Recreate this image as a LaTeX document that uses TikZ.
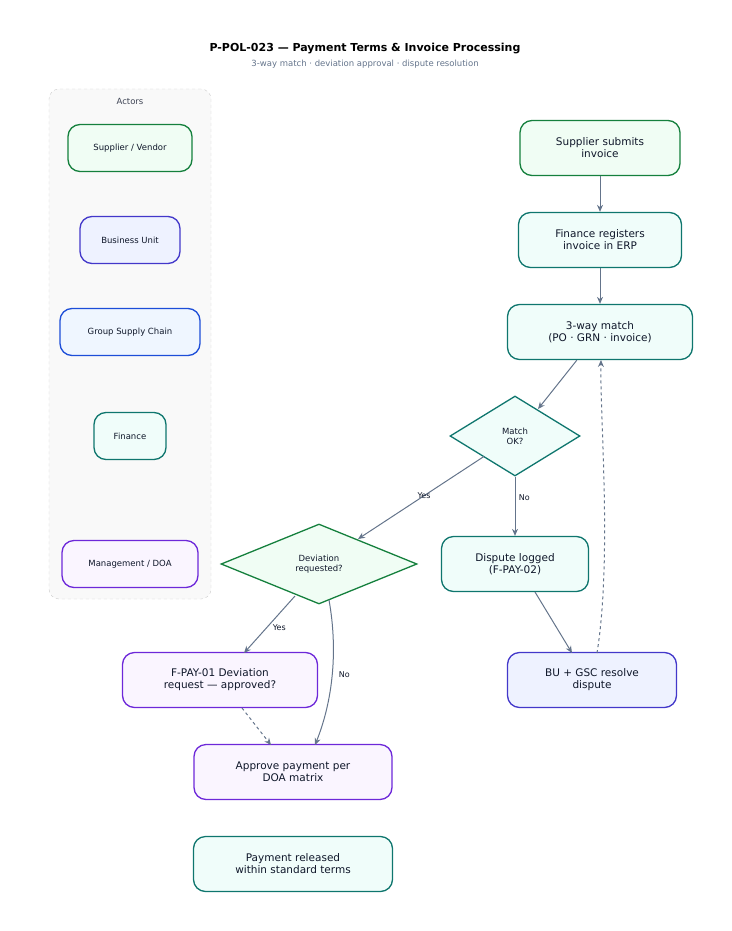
\documentclass[tikz,border=0pt]{standalone}
\usepackage{fontspec}
\setmainfont{DejaVu Sans}
\usetikzlibrary{shapes.geometric,arrows.meta}
\definecolor{gS}{HTML}{15803D}\definecolor{gF}{HTML}{F0FDF4}
\definecolor{iS}{HTML}{4338CA}\definecolor{iF}{HTML}{EEF2FF}
\definecolor{bS}{HTML}{1D4ED8}\definecolor{bF}{HTML}{EFF6FF}
\definecolor{tS}{HTML}{0F766E}\definecolor{tF}{HTML}{F0FDFA}
\definecolor{pS}{HTML}{6D28D9}\definecolor{pF}{HTML}{FAF5FF}
\definecolor{edge}{HTML}{64748B}\definecolor{ink}{HTML}{0F172A}
\begin{document}
\begin{tikzpicture}[x=1pt,y=-1pt,
 box/.style={draw,line width=1.3pt,rounded corners=12pt,align=center,text=ink,font=\fontsize{10.5}{12}\selectfont,inner sep=0pt},
 actor/.style={box,minimum height=47pt,font=\fontsize{8.5}{10}\selectfont},
 dia/.style={draw,diamond,line width=1.3pt,aspect=1.6,align=center,inner sep=0pt,text=ink,font=\fontsize{8.5}{10}\selectfont},
 arr/.style={draw=edge,line width=1pt,-{Stealth[length=7pt,width=6pt]}},
 lab/.style={font=\fontsize{8}{9}\selectfont,text=ink}]
\useasboundingbox (0,0) rectangle (731,931);
\node[font=\bfseries\fontsize{11}{13}\selectfont,text=black] (t) at (365,49) {P-POL-023 — Payment Terms \& Invoice Processing};
\node[font=\fontsize{8.5}{10}\selectfont,text=edge] (st) at (365,64) {3-way match · deviation approval · dispute resolution};
\node[draw=gray!40,dashed,fill=gray!5,rounded corners=10pt,minimum width=162pt,minimum height=510pt] (act) at (130,344) {};
\node[font=\fontsize{8.5}{10}\selectfont,text=ink!80] (al) at (130,101) {Actors};
\node[actor,draw=gS,fill=gF,minimum width=124pt] (a1) at (130,148) {Supplier / Vendor};
\node[actor,draw=iS,fill=iF,minimum width=100pt] (a2) at (130,240) {Business Unit};
\node[actor,draw=bS,fill=bF,minimum width=140pt] (a3) at (130,332) {Group Supply Chain};
\node[actor,draw=tS,fill=tF,minimum width=72pt] (a4) at (130,436) {Finance};
\node[actor,draw=pS,fill=pF,minimum width=136pt] (a5) at (130,564) {Management / DOA};
\node[box,draw=gS,fill=gF,minimum width=160pt,minimum height=55pt] (s1) at (600,148) {Supplier submits\\invoice};
\node[box,draw=tS,fill=tF,minimum width=163pt,minimum height=55pt] (s2) at (600,240) {Finance registers\\invoice in ERP};
\node[box,draw=tS,fill=tF,minimum width=185pt,minimum height=55pt] (s3) at (600,332) {3-way match\\(PO · GRN · invoice)};
\node[dia,draw=tS,fill=tF,minimum width=130pt,minimum height=80pt] (d1) at (515,436) {Match\\OK?};
\node[dia,draw=gS,fill=gF,minimum width=196pt,minimum height=80pt] (d2) at (319,564) {Deviation\\requested?};
\node[box,draw=tS,fill=tF,minimum width=147pt,minimum height=55pt] (s4) at (515,564) {Dispute logged\\(F-PAY-02)};
\node[box,draw=iS,fill=iF,minimum width=169pt,minimum height=55pt] (s5) at (592,680) {BU + GSC resolve\\dispute};
\node[box,draw=pS,fill=pF,minimum width=195pt,minimum height=55pt] (s6) at (220,680) {F-PAY-01 Deviation\\request — approved?};
\node[box,draw=pS,fill=pF,minimum width=198pt,minimum height=55pt] (s7) at (293,772) {Approve payment per\\DOA matrix};
\node[box,draw=tS,fill=tF,minimum width=199pt,minimum height=55pt] (s8) at (293,864) {Payment released\\within standard terms};
\draw[arr] (s1) -- (s2);
\draw[arr] (s2) -- (s3);
\draw[arr] (s3.south west) ++(70,0) -- (538,409);
\draw[arr] (d1.south west) ++(2,0) -- node[lab,pos=0.55,above right=-1pt] {Yes} (358,539);
\draw[arr] (d1.south) -- node[lab,pos=0.35,right=0pt] {No} (s4.north);
\draw[arr] (295,596) -- node[lab,pos=0.55,right=2pt] {Yes} (244,653);
\draw[arr] (329,600) .. controls (338,650) and (333,700) .. node[lab,pos=0.5,right=3pt] {No} (315,745);
\draw[arr,dashed] (242,708) -- (271,745);
\draw[arr] (535,592) -- (572,653);
\draw[arr,dashed] (597,653) .. controls (612,560) and (600,420) .. (601,360);
\end{tikzpicture}
\end{document}
